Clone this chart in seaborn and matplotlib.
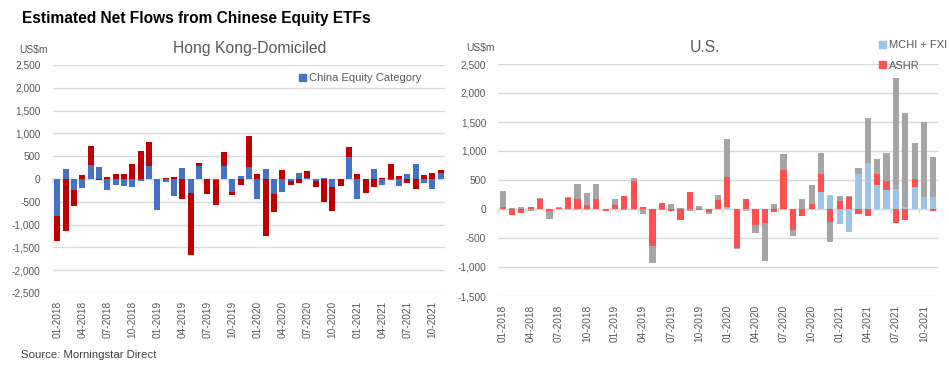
import numpy as np
import pandas as pd
import matplotlib
matplotlib.use("Agg")
import matplotlib.pyplot as plt
import seaborn as sns
from matplotlib.patches import Patch

months = [f"{m:02d}-{y}" for y in range(2018, 2022) for m in range(1, 13)][:47]

hk_category = [-820, 226, -248, -204, 314, 270, -248, -139, -160, -182, -51, 292,
               -672, -73, -380, 248, -299, 292, 0, -29, 292, -292, 73, 270,
               -445, 226, -321, -292, -36, 139, 29, -36, 29, -182, 0, 489,
               -445, 0, 226, -139, -29, -160, 117, 336, -95, -226, 139]
hk_other = [-545, -1146, -350, 95, 416, -29, 51, 117, 117, 336, 620, 525,
            -15, 22, 51, -438, -1373, 66, -336, -548, 307, -66, -139, 679,
            117, -1255, -409, 190, -102, -95, 139, -146, -511, -526, -160, 204,
            117, -314, -182, 29, 336, 73, -95, -226, 95, 139, 51]

us_mchi_fxi = [0, 0, 0, 0, 0, 0, 0, 0, 0, -23, 0, 0,
               0, 0, 0, 0, 0, 0, 0, 0, 0, 0, 0, 0,
               29, 0, -29, 0, 0, 0, 0, 0, 0, 0, 299, 247,
               -264, -403, 610, 799, 420, 334, 351, 40, 385, 213, 213]
us_ashr = [40, -98, -75, 40, 178, -40, 23, 195, 178, 75, 178, -29,
           75, 230, 489, 40, -644, 109, -40, -196, 299, -23, -57, 161,
           529, -673, 167, -282, -236, -46, 679, -357, -127, 92, 311, -219,
           144, 201, -92, -127, 190, 155, -247, -196, 138, 0, -40]
us_other = [276, 23, 40, -40, 17, -138, 17, 17, 259, 207, 259, -11,
            103, -23, 52, -92, -293, -23, 92, 23, -40, 57, -35, 86,
            655, -11, 11, -138, -655, 92, 276, -115, 178, 328, 362, -356,
            86, 17, 103, 777, 258, 483, 1915, 1622, 621, 1294, 690]

FONT = ["Liberation Sans", "DejaVu Sans"]
GRAY_TXT = "#595959"
GRID = "#D9D9D9"
TICK_FS = 7.3

sns.set_theme(style="white")
plt.rcParams["font.family"] = FONT


def stacked(ax, series, colors, width):
    pos = np.zeros(len(months))
    neg = np.zeros(len(months))
    for vals, col in zip(series, colors):
        v = np.asarray(vals, dtype=float)
        bottom = np.where(v >= 0, pos, neg)
        df = pd.DataFrame({"month": months, "value": v})
        sns.barplot(data=df, x="month", y="value", color=col, saturation=1,
                    width=width, bottom=bottom, errorbar=None, ax=ax,
                    edgecolor="none", linewidth=0, order=months)
        pos = pos + np.where(v >= 0, v, 0)
        neg = neg + np.where(v < 0, v, 0)


def style(ax, ylim, step, ypad, xpad):
    ax.set_ylim(*ylim)
    ax.set_xlim(-0.5, len(months) - 0.5)
    yt = np.arange(ylim[0], ylim[1] + 1, step)
    ax.set_yticks(yt)
    ax.set_yticklabels([f"{v:,}" for v in yt], color=GRAY_TXT, fontsize=TICK_FS)
    ax.yaxis.grid(True, color=GRID, linewidth=1)
    ax.set_axisbelow(True)
    idx = list(range(0, len(months), 3))
    ax.set_xticks(idx)
    ax.set_xticklabels([months[i] for i in idx], rotation=90, color=GRAY_TXT,
                       fontsize=TICK_FS)
    ax.tick_params(axis="y", length=0, pad=ypad)
    ax.tick_params(axis="x", length=0, pad=xpad)
    ax.axhline(0, color=GRID, linewidth=1, zorder=0.5)
    # small category-axis tick marks hanging below the zero line
    for x in np.arange(-0.5, len(months), 3):
        ax.annotate("", xy=(x, 0), xycoords="data",
                    xytext=(0, -4), textcoords="offset pixels",
                    arrowprops=dict(arrowstyle="-", color=GRID, lw=1,
                                    shrinkA=0, shrinkB=0), zorder=0.5)
    for s in ax.spines.values():
        s.set_visible(False)
    ax.set_xlabel("")
    ax.set_ylabel("")


fig = plt.figure(figsize=(9.49, 3.84), dpi=100)

ax1 = fig.add_axes([53 / 949, 1 - 293 / 384, 392 / 949, 228 / 384])
stacked(ax1, [hk_category, hk_other], ["#4472C4", "#C00000"], 0.72)
style(ax1, (-2500, 2500), 500, 9, 5.5)

ax2 = fig.add_axes([498 / 949, 1 - 296 / 384, 440 / 949, 232 / 384])
stacked(ax2, [us_mchi_fxi, us_ashr, us_other], ["#9DC3E6", "#FF5050", "#A5A5A5"], 0.66)
style(ax2, (-1500, 2500), 500, 8.5, 6.5)

fig.legend(handles=[Patch(color="#4472C4", label="China Equity Category")],
           loc="center left", bbox_to_anchor=(299 / 949, 1 - 78 / 384),
           frameon=False, fontsize=8, handlelength=0.6, handleheight=0.6,
           handletextpad=0.3, borderpad=0, borderaxespad=0, labelcolor=GRAY_TXT)
fig.legend(handles=[Patch(color="#9DC3E6", label="MCHI + FXI"),
                    Patch(color="#FF5050", label="ASHR")],
           loc="upper left", bbox_to_anchor=(879 / 949, 1 - 40 / 384),
           frameon=False, fontsize=8, handlelength=0.6, handleheight=0.6,
           handletextpad=0.3, borderpad=0, borderaxespad=0,
           labelspacing=0.95, labelcolor=GRAY_TXT)

fig.text(22 / 949, 1 - 18 / 384, "Estimated Net Flows from Chinese Equity ETFs",
         fontsize=11.2, fontweight="bold", color="black", va="center", ha="left")
fig.text(250 / 949, 1 - 48 / 384, "Hong Kong-Domiciled", fontsize=11.3,
         color=GRAY_TXT, va="center", ha="center")
fig.text(705 / 949, 1 - 47 / 384, "U.S.", fontsize=11.3,
         color=GRAY_TXT, va="center", ha="center")
fig.text(19 / 949, 1 - 50 / 384, "US$m", fontsize=7.5, color=GRAY_TXT,
         va="center", ha="left")
fig.text(466 / 949, 1 - 48 / 384, "US$m", fontsize=7.5, color=GRAY_TXT,
         va="center", ha="left")
fig.text(21 / 949, 1 - 355 / 384, "Source: Morningstar Direct", fontsize=8.2,
         color="#404040", va="center", ha="left")

fig.savefig("out.png", dpi=100)
